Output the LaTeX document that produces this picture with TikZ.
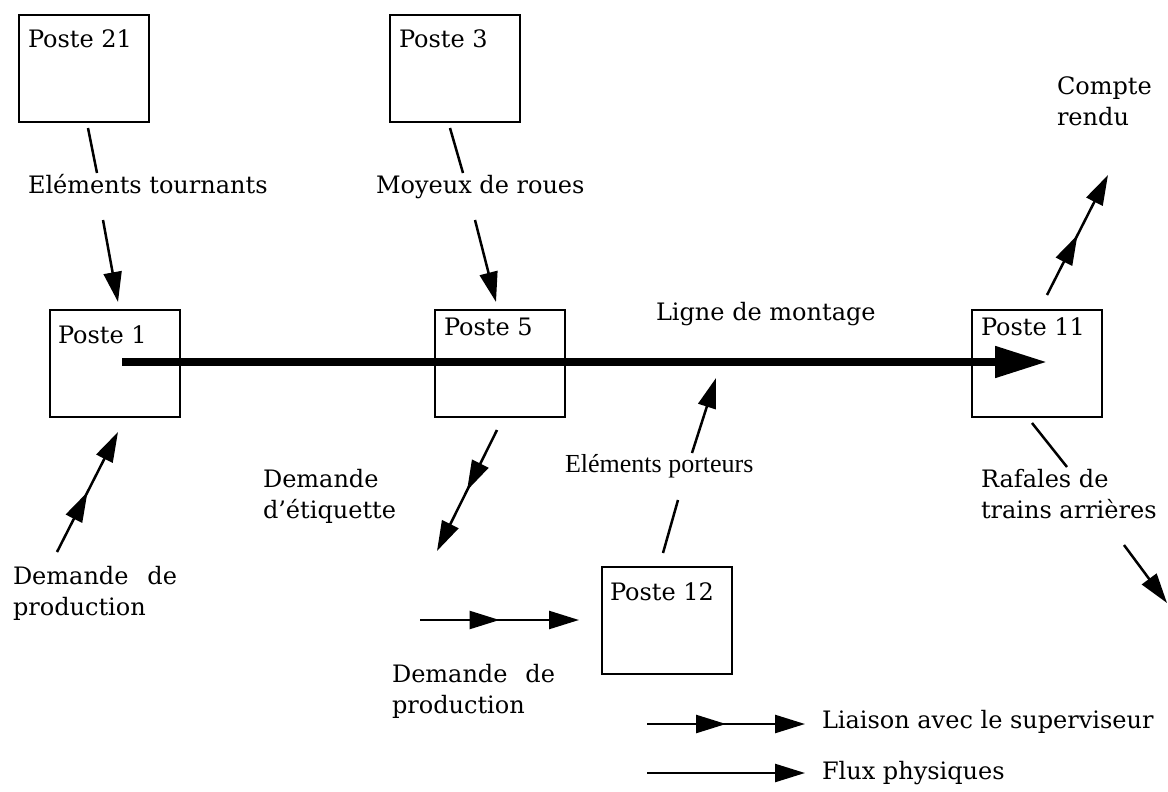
\documentclass[tikz,border=0pt]{standalone}
\usepackage{fontspec}
\setmainfont{DejaVu Serif}
\newfontfamily\timesfont{Liberation Serif}
\usetikzlibrary{arrows.meta,decorations.markings}
\begin{document}
\begin{tikzpicture}[x=1pt,y=-1pt,
  every node/.style={inner sep=0pt, outer sep=0pt},
  poste/.style={draw, line width=2.8pt, minimum width=130pt, minimum height=107pt, anchor=north west},
  ptxt/.style={anchor=base west, font=\fontsize{24}{30.5}\selectfont},
  txt/.style={anchor=base west, font=\fontsize{24}{30.5}\selectfont, align=left},
  plain/.style={line width=2.5pt},
  flux/.style={line width=2.5pt, -{Triangle[length=30pt,width=18pt]}},
  liaison/.style={flux, decoration={markings, mark=at position 0.5 with {\arrow{Triangle[length=30pt,width=18pt]}}}, postaction={decorate}},
  mainline/.style={line width=8pt, -{Triangle[length=52pt,width=30pt]}},
]
\useasboundingbox (0,0) rectangle (1168,792);

% boxes
\node[poste, label={[ptxt, xshift=9pt, yshift=-33pt]north west:Poste 21}] (p21) at (19,15) {};
\node[poste, label={[ptxt, xshift=9pt, yshift=-33pt]north west:Poste 3}] (p3) at (390,15) {};
\node[poste, label={[ptxt, xshift=8pt, yshift=-33pt]north west:Poste 1}] (p1) at (50,310) {};
\node[poste, label={[ptxt, xshift=9pt, yshift=-25pt]north west:Poste 5}] (p5) at (435,310) {};
\node[poste, label={[ptxt, xshift=9pt, yshift=-25pt]north west:Poste 11}] (p11) at (972,310) {};
\node[poste, label={[ptxt, xshift=8pt, yshift=-33pt]north west:Poste 12}] (p12) at (602,567) {};

% texts
\node[txt] (tET) at (28,193) {Eléments tournants};
\node[txt] (tMR) at (376,193) {Moyeux de roues};
\node[txt] (tLM) at (656,320) {Ligne de montage};
\node[txt] (tDP1) at (13,615) {\hbox to 164pt{Demande\hfill de}\\production};
\node[txt] (tDE) at (263,518) {Demande\\d’étiquette};
\node[txt, font=\timesfont\fontsize{26}{30}\selectfont] (tEP) at (565,472) {Eléments porteurs};
\node[txt] (tDP2) at (392,713) {\hbox to 163pt{Demande\hfill de}\\production};
\node[txt] (tCR) at (1057,125) {Compte\\rendu};
\node[txt] (tRT) at (981,518) {Rafales de\\trains arrières};
\node[txt] (tLS) at (822,728) {Liaison avec le superviseur};
\node[txt] (tFP) at (822,779) {Flux physiques};

% connector end points
\coordinate (a1) at (88,128);  \coordinate (a2) at (97,173);
\coordinate (a3) at (103,220); \coordinate (a4) at (118,302);
\coordinate (b1) at (450,128); \coordinate (b2) at (463,173);
\coordinate (b3) at (475,220); \coordinate (b4) at (496,302);
\coordinate (c1) at (663,553); \coordinate (c2) at (678,500);
\coordinate (c3) at (692,453); \coordinate (c4) at (716,378);
\coordinate (d1) at (1032,423); \coordinate (d2) at (1067,467);
\coordinate (d3) at (1124,545); \coordinate (d4) at (1167,603);
\coordinate (e1) at (57,552);  \coordinate (e2) at (118,432);
\coordinate (f1) at (497,430); \coordinate (f2) at (437,551);
\coordinate (g1) at (420,620); \coordinate (g2) at (579,620);
\coordinate (h1) at (1047,295); \coordinate (h2) at (1108,175);
\coordinate (l1) at (647,724); \coordinate (l2) at (805,724);
\coordinate (k1) at (647,773); \coordinate (k2) at (805,773);
\coordinate (m1) at (122,362); \coordinate (m2) at (1047,362);

% main assembly line
\draw[mainline] (m1) -- (m2);

% physical flows
\draw[plain] (a1) -- (a2); \draw[flux] (a3) -- (a4);
\draw[plain] (b1) -- (b2); \draw[flux] (b3) -- (b4);
\draw[plain] (c1) -- (c2); \draw[flux] (c3) -- (c4);
\draw[plain] (d1) -- (d2); \draw[flux] (d3) -- (d4);

% supervisor links
\draw[liaison] (e1) -- (e2);
\draw[liaison] (f1) -- (f2);
\draw[liaison] (g1) -- (g2);
\draw[liaison] (h1) -- (h2);

% legend
\draw[liaison] (l1) -- (l2);
\draw[flux] (k1) -- (k2);
\end{tikzpicture}
\end{document}
